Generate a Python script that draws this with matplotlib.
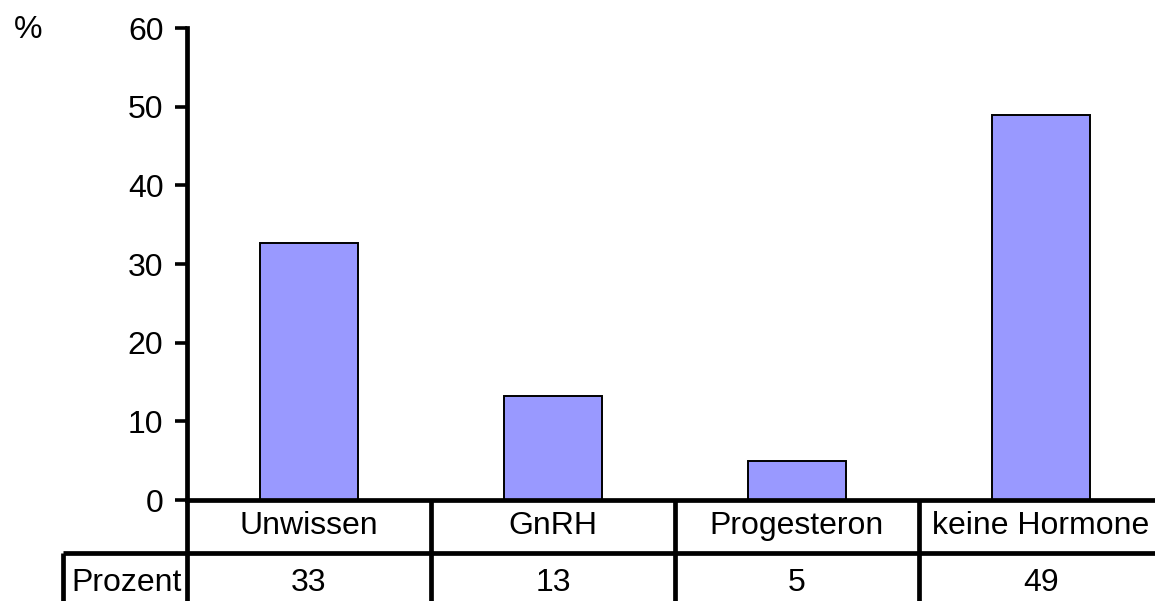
import matplotlib.pyplot as plt
import matplotlib.transforms as mtransforms

plt.rcParams['font.family'] = ['Liberation Sans', 'DejaVu Sans']

categories = ['Unwissen', 'GnRH', 'Progesteron', 'keine Hormone']
prozent = [32.7, 13.2, 4.9, 49.0]
row_label = 'Prozent'
yticks = [0, 10, 20, 30, 40, 50, 60]

W, H = 1155, 601
fs = 23
fig = plt.figure(figsize=(W / 100, H / 100), dpi=100)
left, right, top, bottom = 187, 1163, 28, 500
ax = fig.add_axes([left / W, 1 - bottom / H, (right - left) / W, (bottom - top) / H])

x = range(len(categories))
ax.bar(x, prozent, width=0.4, color='#9999ff', edgecolor='black', linewidth=1.4, zorder=2)

ax.set_xlim(-0.5, len(categories) - 0.5)
ax.set_ylim(0, 60)
ax.set_yticks(yticks)
ax.set_xticks([])
ax.tick_params(axis='y', direction='out', length=9, width=2.6, labelsize=fs, pad=8)
for s in ['top', 'right']:
    ax.spines[s].set_visible(False)
ax.spines['left'].set_linewidth(3.4)
ax.spines['bottom'].set_linewidth(3.4)

fig.text(28 / W, 1 - 30 / H, '%', fontsize=fs, ha='center', va='center')

# data table below the axis
trans = mtransforms.blended_transform_factory(ax.transData, ax.transAxes)
px = 1 / (bottom - top)
row1 = -53 * px
row_end = -(H - bottom + 10) * px
lw = 3.4
for b in [i + 0.5 for i in range(len(categories) - 1)]:
    ax.plot([b, b], [0, row_end], transform=trans, color='black', lw=lw, clip_on=False,
            solid_capstyle='butt')
ax.plot([-0.5, -0.5], [0, row_end], transform=trans, color='black', lw=lw, clip_on=False,
        solid_capstyle='butt')
# second row line, extended left for the row label
cw = (right - left) / len(categories)
xl = -0.5 - (left - 63) / cw
ax.plot([xl, len(categories)], [row1, row1], transform=trans, color='black', lw=lw,
        clip_on=False, solid_capstyle='butt')
ax.plot([xl, xl], [row1, row_end], transform=trans, color='black', lw=lw, clip_on=False,
        solid_capstyle='butt')

for i, (c, v) in enumerate(zip(categories, prozent)):
    ax.text(i, -(526 - bottom) * px, c, transform=trans, ha='center', va='center', fontsize=fs)
    ax.text(i, -(583 - bottom) * px, f'{v:.0f}', transform=trans, ha='center',
            va='center', fontsize=fs)
ax.text(xl + 8 / cw, -(583 - bottom) * px, row_label, transform=trans, ha='left',
        va='center', fontsize=fs)

fig.savefig('out.png', dpi=100)
